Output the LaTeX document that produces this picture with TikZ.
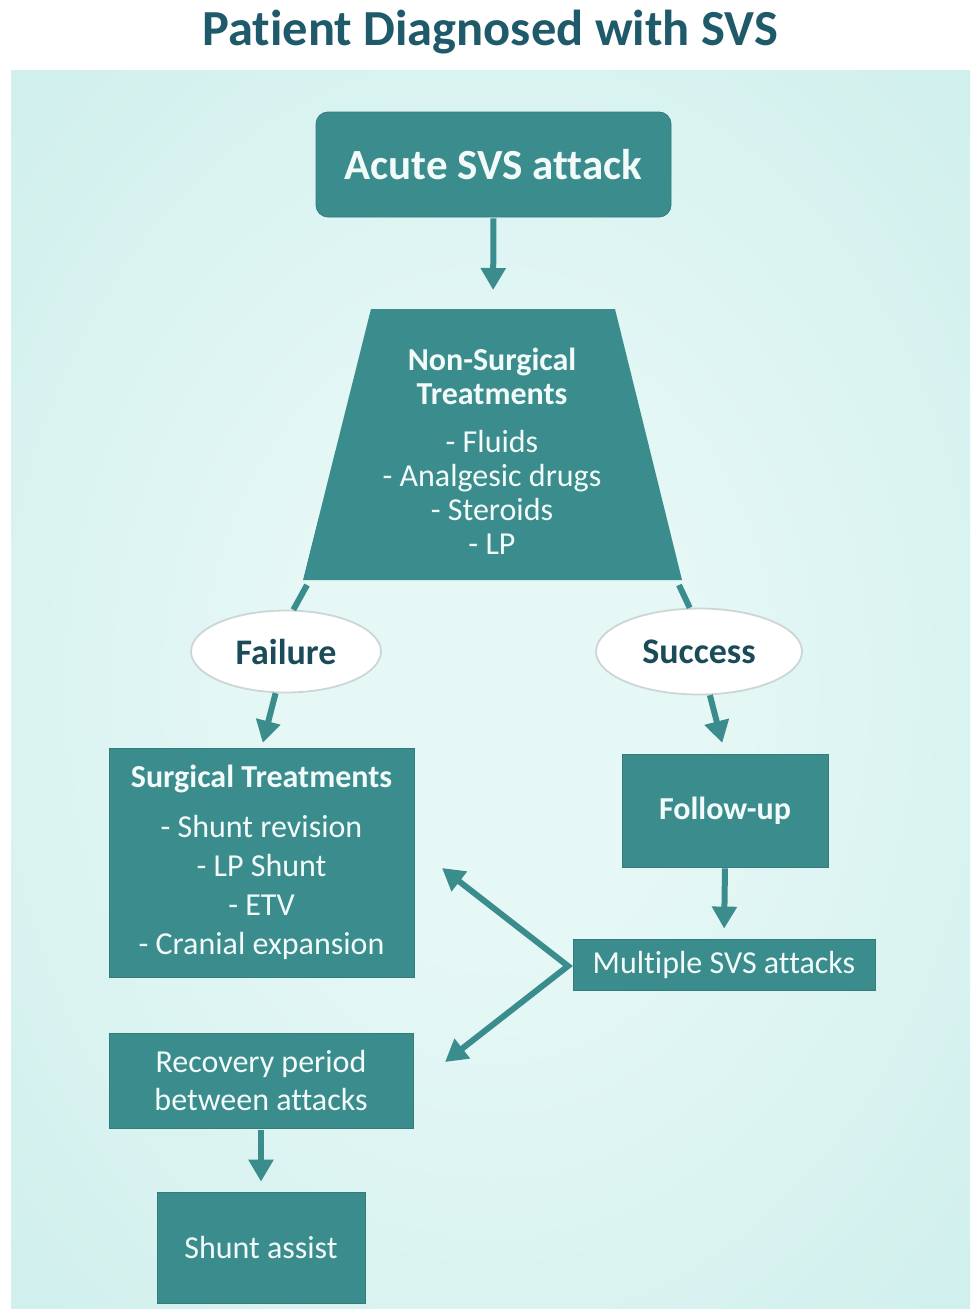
\documentclass[tikz,border=0pt]{standalone}
\usepackage{fontspec}
\setmainfont[Ligatures=NoCommon]{Carlito}
\usetikzlibrary{arrows.meta,shapes.geometric}
\definecolor{boxteal}{HTML}{3B8D8D}
\definecolor{titlecol}{HTML}{1E5A69}
\definecolor{ovaltext}{HTML}{1B4B58}
\definecolor{bgout}{HTML}{C3EAE7}
\definecolor{bgin}{HTML}{E6F8F6}
\definecolor{boxtext}{HTML}{F2FBFA}
\definecolor{ovalline}{HTML}{CCD6D6}
\pgfdeclareradialshading{bgglow}{\pgfpoint{0bp}{0bp}}{color(0bp)=(bgin); color(10bp)=(bgin); color(50bp)=(bgout); color(60bp)=(bgout)}
\begin{document}
\begin{tikzpicture}[x=1pt,y=-1pt,
  tealbox/.style={fill=boxteal, draw=boxteal!88!black, line width=0.8pt, text=boxtext, inner sep=0pt, align=center},
  oval/.style={ellipse, fill=white, draw=ovalline, line width=1.8pt, inner sep=0pt, text=ovaltext, font=\fontsize{36}{40}\selectfont\bfseries},
  conn/.style={draw=boxteal, line width=6pt},
  arr/.style={conn, -{Triangle[width=24pt,length=22pt]}},
  bodyfont/.style={font=\fontsize{32}{39}\selectfont},
]
\useasboundingbox (0,0) rectangle (970,1309);
% background
\fill[white] (0,0) rectangle (970,1309);
\shade[shading=bgglow] (11,70) rectangle (970,1309);

% title
\node[anchor=base, font=\fontsize{50.5}{54}\selectfont\bfseries, text=titlecol] (title) at (490,45) {Patient Diagnosed with SVS};

% acute
\node[tealbox, rounded corners=12pt, minimum width=355pt, minimum height=105pt, font=\fontsize{43}{47}\selectfont\bfseries] (acute) at (493.5,164.5) {Acute SVS attack};

% trapezoid
\coordinate (tTL) at (371,309);
\coordinate (tTR) at (615,309);
\coordinate (tBR) at (682,580);
\coordinate (tBL) at (303,580);
\coordinate (tTop) at (493,309);
\fill[boxteal] (tTL) -- (tTR) -- (tBR) -- (tBL) -- cycle;
\node[font=\fontsize{32}{34}\selectfont, text=boxtext, align=center, inner sep=0pt] (nst) at (492,451)
  {\textbf{Non-Surgical}\\\textbf{Treatments}\\[14pt]- Fluids\\- Analgesic drugs\\- Steroids\\- LP};
\coordinate (lStart) at (307,585);
\coordinate (rStart) at (679,585);

% ovals
\node[oval, minimum width=190pt, minimum height=82pt] (fail) at (286,651.5) {Failure};
\node[oval, minimum width=206pt, minimum height=86pt] (succ) at (699,651.5) {Success};

% boxes
\node[tealbox, bodyfont, minimum width=305pt, minimum height=229pt] (surg) at (261.5,862.5)
  {\textbf{Surgical Treatments}\\[11pt]- Shunt revision\\- LP Shunt\\- ETV\\- Cranial expansion};
\node[tealbox, font=\fontsize{32}{39}\selectfont\bfseries, minimum width=206pt, minimum height=113pt] (follow) at (725,810.5) {Follow-up};
\node[tealbox, bodyfont, minimum width=302pt, minimum height=51pt] (multi) at (724,964.5) {Multiple SVS attacks};
\node[tealbox, font=\fontsize{32}{38}\selectfont, minimum width=304pt, minimum height=95pt] (recov) at (261,1080.5) {Recovery period\\between attacks};
\node[tealbox, bodyfont, minimum width=208pt, minimum height=111pt] (shunt) at (261,1247.5) {Shunt assist};

% connectors
\draw[arr, shorten <=1pt, shorten >=19pt] (acute.south) -- (tTop);
\draw[conn] (lStart) -- (fail.80);
\draw[conn] (rStart) -- (succ.102);
\draw[arr, shorten >=5pt] (fail.256) -- (surg.north);
\draw[arr, shorten >=11pt] (succ.-76) -- (follow.north);
\draw[arr, shorten <=1pt, shorten >=10pt] (follow.south) -- (multi.north);
\coordinate (vx) at (568,966);
\coordinate (upTip) at (442,868);
\coordinate (loTip) at (445,1062);
\draw[conn, {Triangle[width=24pt,length=22pt]}-{Triangle[width=24pt,length=22pt]}] (upTip) -- (vx) -- (loTip);
\draw[arr, shorten <=2pt, shorten >=10pt] (recov.south) -- (shunt.north);
\end{tikzpicture}
\end{document}
